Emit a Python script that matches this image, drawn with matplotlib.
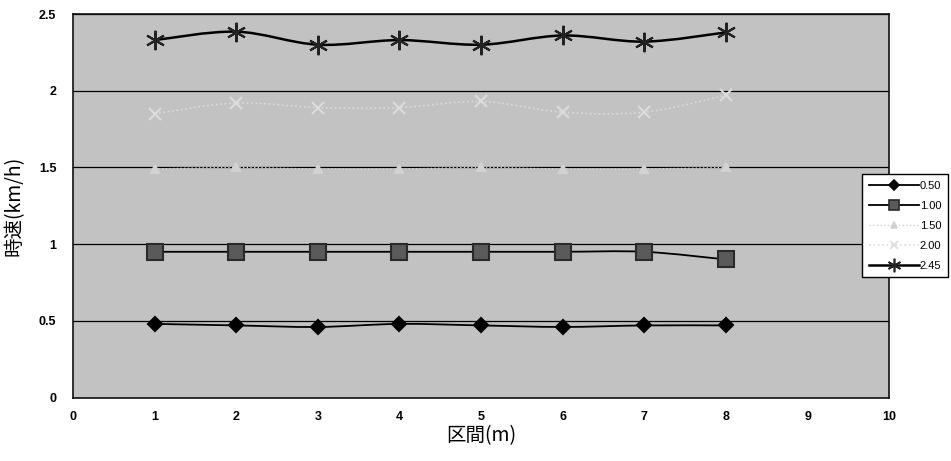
import numpy as np
import matplotlib
matplotlib.use('Agg')
import matplotlib.pyplot as plt
from matplotlib.path import Path
from matplotlib.patches import PathPatch
from matplotlib.lines import Line2D

# section number (m) and speed (km/h) for each set speed
sections = [1, 2, 3, 4, 5, 6, 7, 8]
labels = ['0.50', '1.00', '1.50', '2.00', '2.45']
v050 = [0.48, 0.47, 0.46, 0.48, 0.47, 0.46, 0.47, 0.47]
v100 = [0.95, 0.95, 0.95, 0.95, 0.95, 0.95, 0.95, 0.90]
v150 = [1.49, 1.50, 1.49, 1.49, 1.50, 1.49, 1.49, 1.50]
v200 = [1.85, 1.92, 1.89, 1.89, 1.93, 1.86, 1.86, 1.97]
v245 = [2.33, 2.385, 2.30, 2.33, 2.30, 2.36, 2.32, 2.38]
xticks = [0, 1, 2, 3, 4, 5, 6, 7, 8, 9, 10]
yticks = [0, 0.5, 1, 1.5, 2, 2.5]
yticklabels = ['0', '0.5', '1', '1.5', '2', '2.5']

tickfont = ['Liberation Sans Narrow', 'Liberation Sans', 'DejaVu Sans']
jpfont = ['Noto Sans CJK JP', 'DejaVu Sans']


def smooth_path(x, y, t=1/6):
    # Excel-like smoothed line: cubic bezier through every point
    x = np.asarray(x, float)
    y = np.asarray(y, float)
    verts = [(x[0], y[0])]
    codes = [Path.MOVETO]
    n = len(x)
    for i in range(n - 1):
        p0 = (x[max(i - 1, 0)], y[max(i - 1, 0)])
        p1 = (x[i], y[i])
        p2 = (x[i + 1], y[i + 1])
        p3 = (x[min(i + 2, n - 1)], y[min(i + 2, n - 1)])
        c1 = (p1[0] + (p2[0] - p0[0]) * t, p1[1] + (p2[1] - p0[1]) * t)
        c2 = (p2[0] - (p3[0] - p1[0]) * t, p2[1] - (p3[1] - p1[1]) * t)
        verts += [c1, c2, p2]
        codes += [Path.CURVE4] * 3
    return Path(verts, codes)


fig = plt.figure(figsize=(9.51, 4.61), dpi=100)
ax = fig.add_axes([0.0768, 0.1377, 0.8582, 0.8319])
ax.set_facecolor('#c2c2c2')

styles = [
    dict(data=v050, color='black', lw=1.3, ls='-', marker='D', ms=7, mfc='black', mec='black'),
    dict(data=v100, color='black', lw=1.3, ls='-', marker='s', ms=11, mfc='#5a5a5a', mec='#2a2a2a'),
    dict(data=v150, color='#d2d2d2', lw=1.0, ls=':', marker='^', ms=6, mfc='#d2d2d2', mec='#d2d2d2'),
    dict(data=v200, color='#dcdcdc', lw=1.2, ls=':', marker='x', ms=9, mfc='#dcdcdc', mec='#dcdcdc'),
    dict(data=v245, color='black', lw=1.8, ls='-', marker=(6, 2, 0), ms=14, mfc='#222222', mec='#222222'),
]

handles = []
for lab, s in zip(labels, styles):
    patch = PathPatch(smooth_path(sections, s['data']), facecolor='none', edgecolor=s['color'],
                      lw=s['lw'], ls=s['ls'], zorder=3)
    ax.add_patch(patch)
    ax.plot(sections, s['data'], linestyle='none', marker=s['marker'], ms=s['ms'], mfc=s['mfc'],
            mec=s['mec'], mew=1.5, zorder=4)
    handles.append(Line2D([], [], color=s['color'], lw=s['lw'], ls=s['ls'], marker=s['marker'],
                          ms=s['ms'] * 0.7, mfc=s['mfc'], mec=s['mec'], mew=1.2, label=lab))

ax.set_xlim(0, 10)
ax.set_ylim(0, 2.5)
ax.set_xticks(xticks)
ax.set_yticks(yticks)
ax.set_xticklabels([str(v) for v in xticks], family=tickfont, fontsize=9, fontweight='bold')
ax.set_yticklabels(yticklabels, family=tickfont, fontsize=9, fontweight='bold')
ax.tick_params(axis='both', length=0)
ax.tick_params(axis='x', pad=10)
ax.tick_params(axis='y', pad=12)
ax.yaxis.grid(True, color='black', lw=0.9)
ax.set_axisbelow(True)
for sp in ax.spines.values():
    sp.set_color('#111111')
    sp.set_linewidth(1.2)

ax.set_xlabel('区間(m)', family=jpfont, fontsize=14, labelpad=1)
ax.set_ylabel('時速(km/h)', family=jpfont, fontsize=14, labelpad=10)

leg = fig.legend(handles=handles, loc='upper left', bbox_to_anchor=(862 / 951, 1 - 174 / 461),
                 frameon=True, fancybox=False, edgecolor='black', framealpha=1,
                 prop={'family': tickfont, 'size': 8}, handlelength=4.5, handletextpad=0.1,
                 labelspacing=0.9, borderpad=0.6, borderaxespad=0)
leg.get_frame().set_linewidth(1.0)

fig.savefig('out.png', dpi=100)
